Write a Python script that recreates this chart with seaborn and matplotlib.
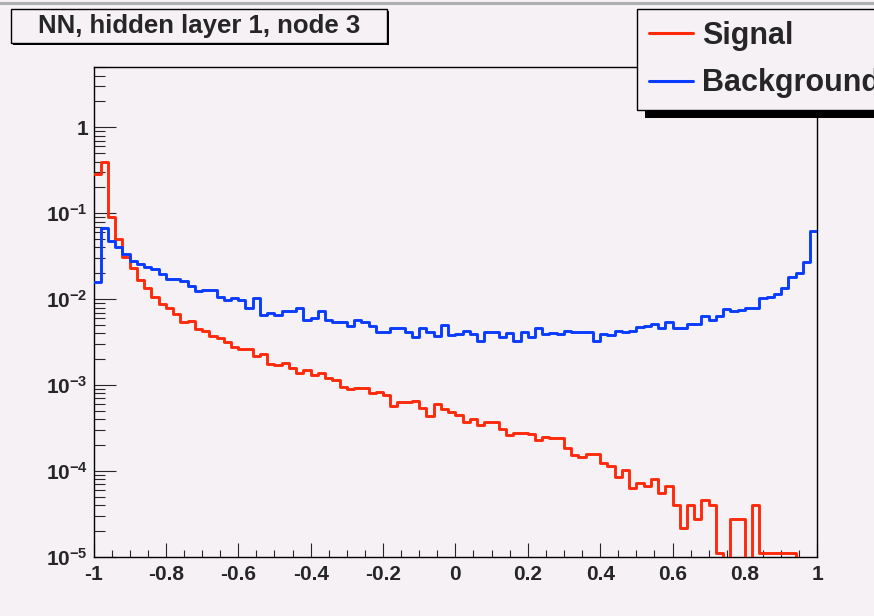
import numpy as np
import pandas as pd
import matplotlib
matplotlib.use("Agg")
import matplotlib.pyplot as plt
import seaborn as sns
from matplotlib.patches import Rectangle
from matplotlib.lines import Line2D
from matplotlib.ticker import MultipleLocator, LogLocator, NullFormatter

# ---------------- data ----------------
n_bins = 100
x_range = (-1.0, 1.0)

signal = [
    0.29, 0.39, 0.09, 0.05, 0.031, 0.023, 0.0167, 0.0136, 0.0107, 0.0088,
    0.0078, 0.0067, 0.0054, 0.0056, 0.0045, 0.0043, 0.0037, 0.0035, 0.0032, 0.0028,
    0.0026, 0.00265, 0.0022, 0.0023, 0.00178, 0.0017, 0.0018, 0.00157, 0.00139, 0.0015,
    0.0013, 0.00137, 0.00122, 0.00115, 0.00094, 0.00089, 0.00093, 0.00093, 0.0008, 0.00084,
    0.00077, 0.00057, 0.00063, 0.00063, 0.00065, 0.00054, 0.00044, 0.0006, 0.00053, 0.00049,
    0.00045, 0.00037, 0.0004, 0.00034, 0.00037, 0.00037, 0.00031, 0.00026, 0.00028, 0.00028,
    0.00027, 0.00023, 0.00025, 0.00024, 0.00024, 0.000187, 0.000153, 0.000146, 0.000156, 0.000156,
    0.000125, 0.000114, 8.6e-5, 0.000102, 6.3e-5, 7.2e-5, 6.7e-5, 8.0e-5, 5.6e-5, 6.7e-5,
    4.0e-5, 2.2e-5, 4.0e-5, 2.8e-5, 4.6e-5, 4.0e-5, 1.1e-5, 0.0, 2.8e-5, 2.8e-5,
    0.0, 4.0e-5, 1.1e-5, 1.1e-5, 1.1e-5, 1.1e-5, 1.1e-5, 0.0, 0.0, 0.0,
]

background = [
    0.016, 0.067, 0.048, 0.041, 0.034, 0.028, 0.0257, 0.024, 0.0223, 0.0196,
    0.0174, 0.0174, 0.0162, 0.0142, 0.0123, 0.0128, 0.0128, 0.0107, 0.0098, 0.0104,
    0.0098, 0.0079, 0.0102, 0.0065, 0.0070, 0.0066, 0.0073, 0.0073, 0.0080, 0.0057,
    0.0060, 0.0073, 0.0057, 0.0055, 0.0055, 0.0049, 0.0058, 0.0055, 0.0049, 0.0041,
    0.0041, 0.0046, 0.0046, 0.0041, 0.0036, 0.0046, 0.0041, 0.0037, 0.0050, 0.0038,
    0.0039, 0.0043, 0.0039, 0.0033, 0.0041, 0.0041, 0.0036, 0.0040, 0.0033, 0.0041,
    0.0036, 0.0046, 0.0039, 0.0040, 0.0039, 0.0043, 0.0041, 0.0041, 0.0041, 0.0033,
    0.0039, 0.0038, 0.0043, 0.0041, 0.0043, 0.0047, 0.0049, 0.0052, 0.0046, 0.0055,
    0.0046, 0.0046, 0.0052, 0.0051, 0.0064, 0.0057, 0.0064, 0.0077, 0.0073, 0.0075,
    0.0079, 0.0079, 0.0102, 0.0107, 0.0114, 0.0136, 0.018, 0.020, 0.0268, 0.062,
]

series_names = ["Signal", "Background"]
title_text = "NN, hidden layer 1, node 3"
x_ticks = [-1.0, -0.8, -0.6, -0.4, -0.2, 0.0, 0.2, 0.4, 0.6, 0.8, 1.0]
x_tick_labels = ["-1", "-0.8", "-0.6", "-0.4", "-0.2", "0", "0.2", "0.4", "0.6", "0.8", "1"]
y_ticks = [1e-5, 1e-4, 1e-3, 1e-2, 1e-1, 1.0]
y_tick_labels = [r"$\mathbf{10^{-5}}$", r"$\mathbf{10^{-4}}$", r"$\mathbf{10^{-3}}$",
                 r"$\mathbf{10^{-2}}$", r"$\mathbf{10^{-1}}$", "1"]

# ---------------- style ----------------
W, H = 874, 616
BG = "#F5F1F5"
RED = "#FF2A0A"
BLUE = "#0A3CFF"

sns.set_style("white")
plt.rcParams.update({
    "axes.unicode_minus": False,
    "mathtext.fontset": "custom",
    "mathtext.rm": "Liberation Sans:bold",
    "mathtext.bf": "Liberation Sans:bold",
    "mathtext.it": "Liberation Sans:bold:italic",
    "font.weight": "bold",
})
plt.rcParams["font.family"] = ["Liberation Sans", "DejaVu Sans"]

fig = plt.figure(figsize=(W / 100, H / 100), dpi=100)
fig.patch.set_facecolor(BG)

x0, x1 = 93.5, 817.3
ytop, ybot = 67.3, 557.0
ax = fig.add_axes([x0 / W, 1 - ybot / H, (x1 - x0) / W, (ybot - ytop) / H])
ax.set_facecolor(BG)

edges = np.linspace(x_range[0], x_range[1], n_bins + 1)
centers = (edges[:-1] + edges[1:]) / 2
df = pd.DataFrame({
    "x": np.concatenate([centers, centers]),
    "w": np.concatenate([signal, background]),
    "sample": [series_names[0]] * len(signal) + [series_names[1]] * len(background),
})

colors = {series_names[0]: RED, series_names[1]: BLUE}
for name in series_names:
    sub = df[df["sample"] == name].reset_index(drop=True)
    sns.histplot(data=sub, x="x", weights="w", bins=n_bins, binrange=x_range,
                 element="step", fill=False, color=colors[name], linewidth=2.1,
                 ax=ax, zorder=3)

ax.set_yscale("log")
ax.set_xlim(-1, 1)
ax.set_ylim(1e-5, 5.0)
ax.set_xlabel("")
ax.set_ylabel("")

ax.set_xticks(x_ticks, labels=x_tick_labels)
ax.xaxis.set_minor_locator(MultipleLocator(0.05))
ax.set_yticks(y_ticks, labels=y_tick_labels)
ax.yaxis.set_minor_locator(LogLocator(base=10, subs=np.arange(2, 10), numticks=30))
ax.yaxis.set_minor_formatter(NullFormatter())

ax.tick_params(axis="y", which="major", direction="in", length=16, width=0.8,
               pad=4, labelsize=15, left=True, right=False)
ax.tick_params(axis="y", which="minor", direction="in", length=8, width=0.8,
               left=True, right=False)
ax.tick_params(axis="x", which="major", direction="in", length=10, width=0.8,
               pad=6, labelsize=15, bottom=True, top=False)
ax.tick_params(axis="x", which="minor", direction="in", length=5, width=0.8,
               bottom=True, top=False)
for lab in ax.get_xticklabels() + ax.get_yticklabels():
    lab.set_fontweight("bold")

for sp in ax.spines.values():
    sp.set_visible(True)
    sp.set_color("black")
    sp.set_linewidth(1.0)

def fx(px):
    return px / W

def fy(py):
    return 1 - py / H

# top window border line
fig.add_artist(Line2D([0, 1], [fy(3), fy(3)], transform=fig.transFigure,
                      color="#AFAFAF", lw=2.2, zorder=1))

# title box
tb_l, tb_r, tb_t, tb_b = 11, 387, 9.5, 42.5
fig.add_artist(Rectangle((fx(tb_l + 2), fy(tb_b + 2)), fx(tb_r - tb_l), (tb_b - tb_t) / H,
                         transform=fig.transFigure, facecolor="black", edgecolor="none", zorder=2))
fig.add_artist(Rectangle((fx(tb_l), fy(tb_b)), fx(tb_r - tb_l), (tb_b - tb_t) / H,
                         transform=fig.transFigure, facecolor=BG, edgecolor="black",
                         lw=1.0, zorder=3))
fig.text(fx((tb_l + tb_r) / 2), fy((tb_t + tb_b) / 2 + 0.5), title_text, ha="center",
         va="center", fontsize=18.5, fontweight="bold", zorder=4)

# legend shadow
fig.add_artist(Rectangle((fx(645), fy(118)), 1.0, (118 - 17) / H,
                         transform=fig.transFigure, facecolor="black", edgecolor="none", zorder=2))

handles = [Line2D([], [], color=RED, lw=2.2), Line2D([], [], color=BLUE, lw=2.2)]
leg = fig.legend(handles, series_names, loc="upper left",
                 bbox_to_anchor=(fx(637), fy(9)), bbox_transform=fig.transFigure,
                 borderaxespad=0, frameon=True, fancybox=False, shadow=False,
                 edgecolor="black", facecolor=BG, framealpha=1.0,
                 prop={"size": 22, "weight": "bold"},
                 handlelength=1.45, handletextpad=0.3, labelspacing=0.58, borderpad=0.38)
leg.get_frame().set_linewidth(1.0)
leg.set_zorder(5)

fig.savefig("out.png", dpi=100, facecolor=BG)
